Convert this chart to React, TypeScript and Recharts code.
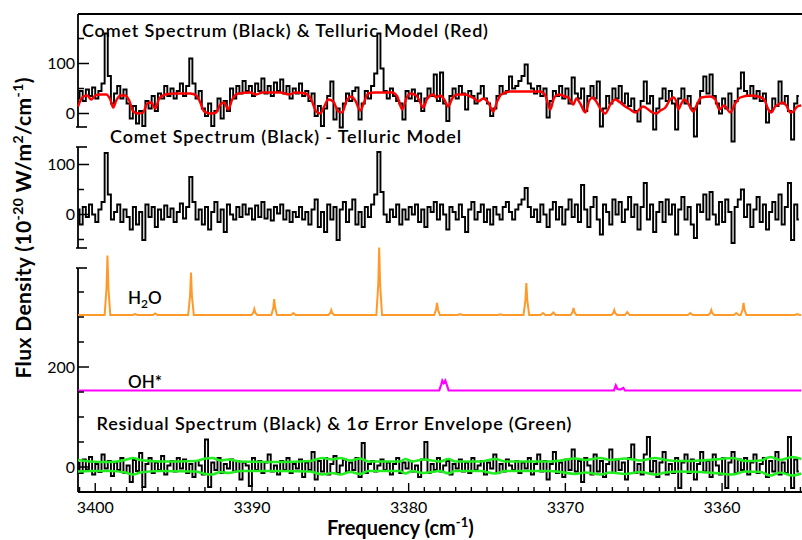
import React from "react";
import { LineChart, Line, XAxis, YAxis, ReferenceLine } from "recharts";

// spectra are sampled on a uniform grid, high frequency first
const GRID_START = 3401.1;
const GRID_STEP = 0.2;
const X_LEFT = 3401.1;
const X_RIGHT = 3354.9;

// comet spectrum (black, top panel)
const cometFlux = [
  30, 45, 25, 48, 35, 52, 30, 45, 60, 160,
  75, 20, 40, 55, 30, 48, 20, -10, 15, -20,
  5, -25, 25, 10, 35, 5, 40, 30, 55, 35,
  50, 30, 45, 60, 35, 55, 110, 60, 30, 45,
  10, -5, 20, -25, 5, 30, -10, 25, 5, 50,
  30, 55, 40, 65, 45, 55, 35, 60, 45, 70,
  40, 55, 35, 62, 45, 68, 40, 55, 30, 50,
  40, 60, 35, 45, 25, 40, -5, 15, -25, 10,
  35, 64, -12, 10, -28, 20, 40, 25, 45, 52,
  -12, 20, 45, 30, 55, 80, 160, 90, 45, 30,
  50, 35, 25, 20, -12, 45, 30, 48, 25, 40,
  5, 30, 50, 35, 78, 25, 82, 20, -15, 35,
  50, 30, 55, 40, 8, 45, 35, 20, 40, 55,
  30, 20, -5, 10, 35, 55, 40, 45, 74, 50,
  55, 65, 75, 98, 60, 50, 40, 55, 35, 50,
  -8, 25, 45, 35, 55, 30, 50, 20, 72, 40,
  30, 50, 5, 35, 55, 30, 64, -26, 10, 35,
  20, 50, 30, 55, 20, 40, 15, 30, 5, -16,
  25, 64, 20, 35, -32, 10, 30, 50, 25, 45,
  20, -32, 30, 50, 20, 35, 10, -46, 20, 45,
  74, 40, 78, 35, 20, 0, 30, 10, 40, -56,
  25, 50, 82, 45, 35, 55, 30, 45, 25, 40,
  -18, 5, 30, 15, 64, 20, 35, 5, -52, 20, 35,
];

// comet minus telluric model (black, middle panel)
const diffFlux = [
  10, -20, 15, -5, 20, 0, -15, 10, 25, 123,
  40, -10, 5, 20, -15, 10, -5, -30, 15, -20,
  5, -51, 20, -5, 15, -25, 10, -10, 18, -5,
  12, -15, 5, 22, -8, 15, 75, 25, -10, 10,
  -20, 15, -30, 5, 25, -15, 10, -35, 20, 0,
  -10, 15, -5, 20, 0, 12, -10, 18, -5, 25,
  -8, 10, -12, 15, 2, 20, -10, 8, -15, 5,
  -5, 15, -10, 5, -20, 10, 30, -25, 5, -35,
  20, -10, 15, -51, 10, 25, -15, 10, 30, -20,
  5, -25, 15, -5, 20, 40, 125, 45, 0, -15,
  10, -5, 20, -20, 10, -10, 15, 0, 20, -15,
  10, -25, 15, 5, 25, -10, 20, 0, -30, 15,
  5, -10, 20, -5, -35, 10, 25, -10, 5, 20,
  -15, 10, -20, 15, 0, -10, 15, 25, 5, -10,
  10, 20, 30, 53, 15, -5, 10, -15, 20, 0,
  -25, 10, 25, -10, 15, -20, 10, 30, -5, 20,
  -15, 59, 10, -25, 15, 35, -10, -40, 20, 5,
  -20, 30, 0, 25, -15, 10, 35, -5, 20, -30,
  15, 63, -10, 20, -35, 5, 25, -15, 30, 0,
  20, -40, 10, 35, -10, 15, -20, -47, 20, 5,
  40, -10, 45, 0, -20, 25, -15, 30, 5, -57,
  15, 30, 50, -5, 20, -25, 10, 35, -15, 20,
  -30, 5, 25, -10, 40, -20, 15, 63, -51, 20, -10,
];

// residual spectrum (black, bottom)
const residFlux = [
  8, -12, 15, -5, 20, -15, 6, -10, 25, -3,
  12, -18, 9, -6, 18, -12, 3, -30, 14, -8,
  28, -40, 6, 18, -12, 9, -6, 22, -15, 3,
  12, -9, 18, -3, 15, -12, 6, -20, 12, 3,
  -15, 55, -40, 9, -6, 18, -12, 6, -3, 15,
  -9, 12, -25, 9, 3, -38, 18, -6, 12, -12,
  9, 25, -9, 3, -15, 12, -6, 18, -12, 6,
  -3, 15, -20, 9, -6, 30, -25, 12, -9, 18,
  -15, 6, 22, -12, 3, 15, -9, 9, -6, 18,
  -20, 48, -12, 6, 12, -9, 3, 15, -6, 9,
  -15, 6, 18, -12, 9, -3, 12, -9, 3, -20,
  15, 50, -12, 6, -6, 18, -9, 3, 12, -15,
  6, -3, 15, -9, 9, -12, 18, -6, 3, 12,
  -15, 9, -3, 25, -12, 6, -9, 15, 3, -6,
  12, -12, 9, -3, 18, -15, 6, 25, -9, 12,
  -25, 6, 30, -12, 9, -20, 15, -6, 35, -9,
  12, -30, 18, 3, -15, 25, -9, 12, -20, 6,
  35, -12, 15, -6, 9, -25, 18, 45, -12, 6,
  -15, 25, 60, -9, 12, -20, 9, 30, -15, 6,
  -12, 18, -42, 9, 25, -12, 15, -25, 6, 30,
  -9, 12, -20, 25, 3, -15, 18, -42, 9, 30,
  -12, 15, -6, 18, -15, 9, 25, -12, 6, 18,
  -20, 12, -9, 30, -15, 9, -12, 60, -42, 15, -9,
];

// telluric model (red)
const tellFreq = [
  3401.1, 3400.77, 3400.51, 3400.26, 3400.0, 3399.68, 3399.3, 3399.04, 3398.85, 3398.66,
  3398.4, 3398.09, 3397.83, 3397.57, 3397.26, 3396.94, 3396.68, 3396.43, 3396.17, 3395.92,
  3395.53, 3394.89, 3393.94, 3393.55, 3393.3, 3393.04, 3392.66, 3392.28, 3392.02, 3391.77,
  3391.51, 3391.26, 3390.87, 3390.11, 3389.73, 3389.34, 3388.19, 3387.62, 3387.24, 3386.6,
  3386.22, 3385.9, 3385.64, 3385.39, 3385.13, 3384.81, 3384.49, 3384.24, 3383.98, 3383.66,
  3383.41, 3383.09, 3382.83, 3382.58, 3382.13, 3381.05, 3380.73, 3380.41, 3380.15, 3379.9,
  3379.51, 3379.32, 3379.07, 3378.81, 3378.43, 3378.24, 3377.98, 3377.73, 3377.47, 3377.22,
  3376.9, 3376.39, 3376.07, 3375.81, 3375.56, 3375.24, 3374.92, 3374.6, 3374.35, 3374.09,
  3373.52, 3371.6, 3371.28, 3370.96, 3370.71, 3370.45, 3370.01, 3369.81, 3369.5, 3369.3,
  3369.05, 3368.73, 3368.47, 3368.28, 3368.03, 3367.77, 3367.45, 3367.13, 3366.82, 3366.5,
  3366.18, 3365.86, 3365.54, 3365.22, 3365.03, 3364.71, 3364.45, 3364.2, 3363.94, 3363.62,
  3363.31, 3363.11, 3362.92, 3362.79, 3362.6, 3362.41, 3362.16, 3361.84, 3361.58, 3361.33,
  3360.75, 3360.43, 3360.18, 3359.86, 3359.48, 3359.16, 3358.84, 3358.2, 3357.69, 3357.31,
  3357.05, 3356.86, 3356.61, 3356.41, 3356.16, 3355.9, 3355.65, 3355.46, 3355.2, 3354.95,
];
const tellFlux = [
  14, 34, 36, 28, 36, 38, 38, 28, 12, 26,
  36, 36, 26, 4, 0, 2, 20, 22, 10, 30,
  38, 40, 40, 36, 22, 4, 0, 2, 18, 22,
  8, 28, 40, 42, 38, 42, 42, 38, 42, 40,
  28, 4, 0, 14, 28, 24, 4, 2, 24, 34,
  26, 6, 24, 40, 42, 42, 34, 8, 30, 40,
  36, 26, 12, 30, 38, 32, 36, 28, 14, 30,
  38, 38, 34, 30, 24, 30, 22, 4, 24, 38,
  44, 44, 36, 8, 32, 38, 34, 32, 18, 30,
  20, 2, 26, 32, 24, 10, 0, 18, 28, 22,
  14, 8, 2, 10, 14, 8, 2, 0, 6, 12,
  28, 32, 24, 8, 20, 28, 20, 4, 20, 32,
  34, 28, 8, 16, 2, 20, 32, 36, 34, 28,
  8, 2, 14, 18, 22, 16, 2, 4, 14, 16,
];

// 1-sigma error envelope (green)
const envFreq = [
  3401.1, 3400.32, 3399.04, 3398.09, 3397.57, 3397.13, 3395.85, 3393.62, 3392.98, 3392.53,
  3392.02, 3391.51, 3390.75, 3388.19, 3386.28, 3385.51, 3384.88, 3384.37, 3383.73, 3383.09,
  3382.58, 3380.54, 3380.22, 3379.77, 3379.07, 3377.98, 3377.47, 3377.03, 3375.43, 3374.47,
  3373.84, 3370.96, 3370.32, 3369.37, 3368.73, 3367.77, 3367.13, 3366.18, 3365.22, 3364.26,
  3363.62, 3362.67, 3361.39, 3360.11, 3359.35, 3358.52, 3357.56, 3356.92, 3356.29, 3355.52,
  3354.95,
];
const envUpper = [
  14, 11, 10, 14, 18, 14, 11, 12, 17, 18,
  13, 15, 11, 10, 12, 18, 15, 18, 13, 17,
  11, 11, 16, 11, 15, 11, 16, 11, 11, 16,
  11, 11, 13, 17, 14, 18, 14, 17, 13, 18,
  14, 12, 13, 16, 18, 12, 13, 20, 14, 20,
  16,
];
const envLower = [
  -9, -8, -8, -11, -15, -11, -8, -9, -14, -15,
  -10, -12, -8, -8, -9, -15, -12, -15, -10, -14,
  -8, -8, -13, -8, -12, -8, -13, -8, -8, -13,
  -8, -8, -10, -14, -11, -15, -11, -14, -10, -15,
  -11, -9, -10, -13, -15, -9, -10, -17, -11, -17,
  -13,
];

// H2O fluorescence model (orange)
const h2oFreq = [
  3401.1, 3399.4, 3399.28, 3399.22, 3399.16, 3399.04,
  3397.6, 3397.45, 3397.3, 3396.32, 3396.17, 3396.02,
  3394.07, 3393.95, 3393.89, 3393.83, 3393.71,
  3390.03, 3389.91, 3389.85, 3389.79, 3389.67,
  3388.76, 3388.64, 3388.58, 3388.52, 3388.4,
  3387.5, 3387.36, 3387.22,
  3385.12, 3385.0, 3384.94, 3384.88, 3384.76,
  3382.06, 3381.94, 3381.88, 3381.82, 3381.7,
  3378.37, 3378.25, 3378.19, 3378.13, 3378.01,
  3376.86, 3376.71, 3376.56, 3374.3, 3374.15, 3374.0,
  3372.67, 3372.55, 3372.49, 3372.43, 3372.31,
  3371.58, 3371.43, 3371.28, 3370.92, 3370.77, 3370.62,
  3369.66, 3369.54, 3369.48, 3369.42, 3369.3,
  3367.06, 3366.94, 3366.88, 3366.82, 3366.7,
  3366.2, 3366.05, 3365.9, 3362.18, 3362.03, 3361.88,
  3360.87, 3360.75, 3360.69, 3360.63, 3360.51,
  3359.24, 3359.09, 3358.94,
  3358.81, 3358.69, 3358.63, 3358.57, 3358.45,
  3355.35, 3355.2, 3355.05, 3354.95,
];
const h2oFlux = [
  0, 0, 54, 119, 54, 0,
  0, 2, 0, 0, 3, 0,
  0, 38, 85, 38, 0,
  0, 5, 12, 5, 0,
  0, 14, 32, 14, 0,
  0, 4, 0,
  0, 4, 10, 4, 0,
  0, 61, 135, 61, 0,
  0, 11, 24, 11, 0,
  0, 2, 0, 0, 1.5, 0,
  0, 29, 64, 29, 0,
  0, 4, 0, 0, 5, 0,
  0, 6, 14, 6, 0,
  0, 4, 10, 4, 0,
  0, 6, 0, 0, 4, 0,
  0, 4, 10, 4, 0,
  0, 4, 0,
  0, 11, 24, 11, 0,
  0, 2, 0, 0,
];

// OH* prompt emission model (magenta)
const ohFreq = [
  3401.1, 3378.05, 3377.92, 3377.85, 3377.76, 3377.66, 3377.55, 3377.45,
  3366.9, 3366.78, 3366.68, 3366.5, 3366.3, 3366.2, 3354.95,
];
const ohFlux = [0, 0, 12, 20, 15, 20, 10, 0, 0, 10, 3, 2, 5, 0, 0];

const X_MAJOR = [3400, 3390, 3380, 3370, 3360];
const X_TICKS = [
  3355, 3356, 3357, 3358, 3359, 3360, 3361, 3362, 3363, 3364, 3365, 3366,
  3367, 3368, 3369, 3370, 3371, 3372, 3373, 3374, 3375, 3376, 3377, 3378,
  3379, 3380, 3381, 3382, 3383, 3384, 3385, 3386, 3387, 3388, 3389, 3390,
  3391, 3392, 3393, 3394, 3395, 3396, 3397, 3398, 3399, 3400, 3401,
];

// vertical stacking offsets (one shared flux scale)
const OFF_TOP = 707;
const OFF_MID = 505;
const OFF_H2O = 304;
const OFF_OH = 153;
const OFF_RES = 0;

const Y_TICKS = [0, 50, 100, 150, 200, 250, 300, 350, 398, 438, 455, 505, 555, 605, 640, 680, 707, 757, 807, 857];
const Y_LABELS: Record<number, string> = { 0: "0", 200: "200", 505: "0", 605: "100", 707: "0", 807: "100" };
const Y_CAPS = [398, 438, 640, 680];
const AXIS_SEGMENTS = [
  [-50, 398],
  [438, 640],
  [680, 906],
];

const FONT = "Lato, 'Open Sans', sans-serif";

const gridSeries = (vals: number[], off: number) =>
  vals.map((v, i) => ({ f: +(GRID_START - i * GRID_STEP).toFixed(2), y: v + off }));
const pairSeries = (fs: number[], vals: number[], off: number) =>
  fs.map((f, i) => ({ f, y: vals[i] + off }));

const cometData = gridSeries(cometFlux, OFF_TOP);
const tellData = pairSeries(tellFreq, tellFlux, OFF_TOP);
const diffData = gridSeries(diffFlux, OFF_MID);
const h2oData = pairSeries(h2oFreq, h2oFlux, OFF_H2O);
const ohData = pairSeries(ohFreq, ohFlux, OFF_OH);
const residData = gridSeries(residFlux, OFF_RES);
const upperData = pairSeries(envFreq, envUpper, OFF_RES);
const lowerData = pairSeries(envFreq, envLower, OFF_RES);

function BottomTick(props: any) {
  const { x, y, payload } = props;
  const major = X_MAJOR.includes(payload.value);
  return (
    <g>
      <line x1={x} x2={x} y1={y} y2={y - (major ? 9 : 5)} stroke="#000" strokeWidth={1.4} />
      {major && (
        <text x={x} y={y + 21} textAnchor="middle" fontSize={16} fontFamily={FONT} fill="#000">
          {payload.value}
        </text>
      )}
    </g>
  );
}

function TopTick(props: any) {
  const { x, y, payload } = props;
  const major = X_MAJOR.includes(payload.value);
  return <line x1={x} x2={x} y1={y} y2={y + (major ? 9 : 5)} stroke="#000" strokeWidth={1.4} />;
}

function LeftTick(props: any) {
  const { x, y, payload } = props;
  const v = payload.value;
  const label = Y_LABELS[v];
  if (Y_CAPS.includes(v)) {
    return <line x1={x - 2} x2={x + 9} y1={y} y2={y} stroke="#000" strokeWidth={1.6} />;
  }
  return (
    <g>
      <line x1={x} x2={x + (label ? 11 : 6)} y1={y} y2={y} stroke="#000" strokeWidth={1.5} />
      {label && (
        <text x={x - 3} y={y} dy="0.35em" textAnchor="end" fontSize={16} fontFamily={FONT} fill="#000">
          {label}
        </text>
      )}
    </g>
  );
}

function RightTick(props: any) {
  const { x, y, payload } = props;
  const v = payload.value;
  const len = Y_LABELS[v] ? 8 : 4;
  return <line x1={x} x2={x - len} y1={y} y2={y} stroke="#000" strokeWidth={1.4} />;
}

export default function App() {
  return (
    <div style={{ position: "absolute", left: 0, top: 0, width: 802, height: 540, background: "#fff", overflow: "hidden" }}>
      <LineChart width={803} height={540} margin={{ top: 13, right: 0, bottom: 47, left: 77 }}>
        <XAxis
          xAxisId="b"
          type="number"
          dataKey="f"
          domain={[X_RIGHT, X_LEFT]}
          reversed
          ticks={X_TICKS}
          interval={0}
          height={1}
          tickSize={0}
          tickMargin={0}
          tickLine={false}
          axisLine={{ stroke: "#000", strokeWidth: 1.8 }}
          tick={(p: any) => <BottomTick {...p} />}
        />
        <XAxis
          xAxisId="t"
          orientation="top"
          type="number"
          dataKey="f"
          domain={[X_RIGHT, X_LEFT]}
          reversed
          ticks={X_TICKS}
          interval={0}
          height={1}
          tickSize={0}
          tickMargin={0}
          tickLine={false}
          axisLine={{ stroke: "#000", strokeWidth: 1.8 }}
          tick={(p: any) => <TopTick {...p} />}
        />
        <YAxis
          yAxisId="l"
          type="number"
          domain={[-50, 906]}
          ticks={Y_TICKS}
          interval={0}
          width={1}
          tickSize={0}
          tickMargin={0}
          tickLine={false}
          axisLine={false}
          tick={(p: any) => <LeftTick {...p} />}
        />
        <YAxis
          yAxisId="r"
          orientation="right"
          type="number"
          domain={[-50, 906]}
          ticks={Y_TICKS}
          interval={0}
          width={1}
          tickSize={0}
          tickMargin={0}
          tickLine={false}
          axisLine={false}
          tick={(p: any) => <RightTick {...p} />}
        />
        {AXIS_SEGMENTS.map(([a, b]) => (
          <ReferenceLine
            key={a}
            xAxisId="b"
            yAxisId="l"
            segment={[{ x: X_LEFT, y: a }, { x: X_LEFT, y: b }]}
            stroke="#000"
            strokeWidth={1.8}
            ifOverflow="visible"
          />
        ))}
        <Line xAxisId="b" yAxisId="l" data={cometData} dataKey="y" type="step" stroke="#000" strokeWidth={1.9} dot={false} isAnimationActive={false} />
        <Line xAxisId="b" yAxisId="l" data={tellData} dataKey="y" type="monotone" stroke="#ff0000" strokeWidth={2.4} dot={false} isAnimationActive={false} />
        <Line xAxisId="b" yAxisId="l" data={diffData} dataKey="y" type="step" stroke="#000" strokeWidth={1.9} dot={false} isAnimationActive={false} />
        <Line xAxisId="b" yAxisId="l" data={h2oData} dataKey="y" type="linear" stroke="#ff9a2a" strokeWidth={2} dot={false} isAnimationActive={false} />
        <Line xAxisId="b" yAxisId="l" data={ohData} dataKey="y" type="linear" stroke="#ff00ff" strokeWidth={2.2} dot={false} isAnimationActive={false} />
        <Line xAxisId="b" yAxisId="l" data={residData} dataKey="y" type="step" stroke="#000" strokeWidth={1.9} dot={false} isAnimationActive={false} />
        <Line xAxisId="b" yAxisId="l" data={upperData} dataKey="y" type="monotone" stroke="#22ee22" strokeWidth={2.6} dot={false} isAnimationActive={false} />
        <Line xAxisId="b" yAxisId="l" data={lowerData} dataKey="y" type="monotone" stroke="#22ee22" strokeWidth={2.6} dot={false} isAnimationActive={false} />
      </LineChart>
      <svg width={802} height={540} style={{ position: "absolute", left: 0, top: 0, pointerEvents: "none" }}>
        <g fontFamily={FONT} fill="#000">
          <text x={82} y={37} fontSize={18} fontWeight={600} textLength={406}>
            Comet Spectrum (Black) &amp; Telluric Model (Red)
          </text>
          <text x={110} y={142.5} fontSize={18} fontWeight={600} textLength={351}>
            Comet Spectrum (Black) - Telluric Model
          </text>
          <text x={128} y={304} fontSize={17} fontWeight={600}>
            H<tspan fontSize={12} dy={4}>2</tspan>
            <tspan dy={-4}>O</tspan>
          </text>
          <text x={128} y={387.5} fontSize={17} fontWeight={600}>
            OH*
          </text>
          <text x={96.5} y={430} fontSize={18} fontWeight={600} textLength={475}>
            Residual Spectrum (Black) &amp; 1σ Error Envelope (Green)
          </text>
          <text x={327} y={535} fontSize={20} fontWeight={700}>
            Frequency (cm<tspan fontSize={13} dy={-8}>-1</tspan>
            <tspan dy={8}>)</tspan>
          </text>
          <text
            x={31}
            y={228}
            fontSize={21}
            fontWeight={700}
            textAnchor="middle"
            transform="rotate(-90 31 228)"
            textLength={301}
          >
            Flux Density (10<tspan fontSize={14} dy={-8}>-20</tspan>
            <tspan dy={8}> W/m</tspan>
            <tspan fontSize={14} dy={-8}>2</tspan>
            <tspan dy={8}>/cm</tspan>
            <tspan fontSize={14} dy={-8}>-1</tspan>
            <tspan dy={8}>)</tspan>
          </text>
        </g>
      </svg>
    </div>
  );
}
